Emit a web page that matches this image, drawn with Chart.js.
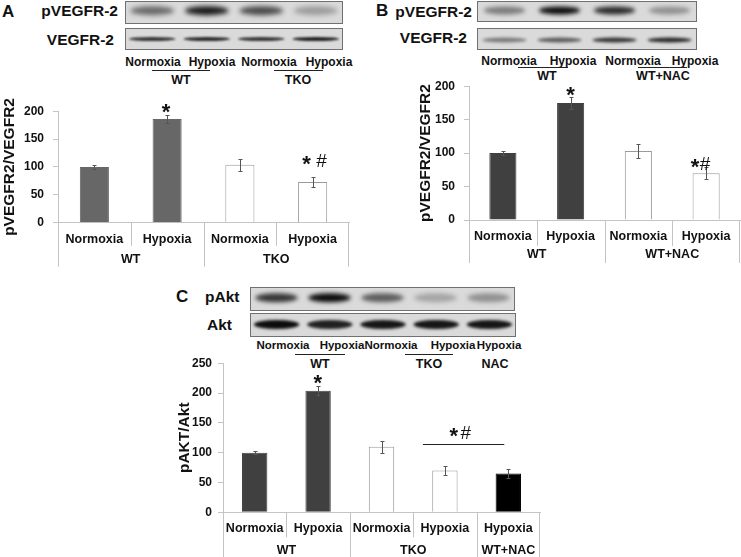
<!DOCTYPE html>
<html>
<head>
<meta charset="utf-8">
<script src="https://cdn.jsdelivr.net/npm/chart.js@4.4.1/dist/chart.umd.min.js"></script>
<style>
  html, body { margin: 0; padding: 0; background: #fff; }
  body { width: 741px; height: 557px; position: relative; overflow: hidden;
         font-family: "Liberation Sans", Arial, sans-serif; color: #111; }
  .abs { position: absolute; }
  .lbl { position: absolute; white-space: nowrap; line-height: 1; font-weight: bold; }
  .rule { position: absolute; height: 0; border-top: 1px solid #222; }
</style>
</head>
<body>
<script>
'use strict';

// ---- data ----
const conditionsAB = ['Normoxia', 'Hypoxia', 'Normoxia', 'Hypoxia'];
const conditionsC = ['Normoxia', 'Hypoxia', 'Normoxia', 'Hypoxia', 'Hypoxia'];

const groupsA = ['WT', 'TKO'];
const spansA = [2, 2];
const valuesA = [100, 186, 104, 73];
const errorsA = [3, 8, 11, 9];

const groupsB = ['WT', 'WT+NAC'];
const spansB = [2, 2];
const valuesB = [100, 175, 103, 70];
const errorsB = [3, 9, 10, 9];

const groupsC = ['WT', 'TKO', 'WT+NAC'];
const spansC = [2, 2, 1];
const valuesC = [100, 204, 110, 70, 65];
const errorsC = [3, 8, 10, 8, 7];

const ticksAB = [0, 50, 100, 150, 200];
const ticksC = [0, 50, 100, 150, 200, 250];

// blot band strength per lane (0 none .. 1 black)
const blotApVEGFR = [0.55, 0.95, 0.7, 0.3];
const blotAVEGFR = [0.8, 0.85, 0.8, 0.9];
const blotBpVEGFR = [0.45, 1.0, 0.85, 0.35];
const blotBVEGFR = [0.45, 0.6, 0.8, 0.85];
const blotCpAkt = [0.8, 1.0, 0.6, 0.25, 0.35];
const blotCAkt = [1.0, 0.9, 0.95, 0.95, 0.95];

// ---- styles ----
const AXIS_GREY = '#c4c4c4';
const FONT = '"Liberation Sans", Arial, sans-serif';
const fillA = ['#676767', '#676767', '#ffffff', '#ffffff'];
const edgeA = ['#676767', '#676767', '#9a9a9a', '#9a9a9a'];
const fillB = ['#404040', '#404040', '#ffffff', '#ffffff'];
const edgeB = ['#404040', '#404040', '#9a9a9a', '#9a9a9a'];
const fillC = ['#404040', '#404040', '#ffffff', '#ffffff', '#000000'];
const edgeC = ['#404040', '#404040', '#9a9a9a', '#9a9a9a', '#000000'];

Chart.defaults.font.family = FONT;

// grouped category axis (Excel style) under the normal tick labels
const groupAxis = {
  id: 'groupAxis',
  afterDraw(chart, args, o) {
    const { ctx, scales: { x } } = chart;
    const y0 = x.top;
    const n = chart.data.labels.length;
    const half = (x.getPixelForValue(1) - x.getPixelForValue(0)) / 2;
    const edge = i => Math.round(x.getPixelForValue(i) - half) + 0.5;
    const bounds = [0];
    o.spans.forEach(s => bounds.push(bounds[bounds.length - 1] + s));
    ctx.save();
    ctx.strokeStyle = AXIS_GREY;
    ctx.lineWidth = 1;
    for (let i = 0; i <= n; i++) {
      const len = bounds.includes(i) ? o.groupDrop : o.catDrop;
      const px = i === n ? Math.round(x.getPixelForValue(n - 1) + half) - 0.5 : edge(i);
      ctx.beginPath();
      ctx.moveTo(px, y0);
      ctx.lineTo(px, y0 + len);
      ctx.stroke();
    }
    ctx.fillStyle = '#111';
    ctx.font = 'bold 12.5px ' + FONT;
    ctx.textAlign = 'center';
    ctx.textBaseline = 'middle';
    o.names.forEach((name, g) => {
      const a = x.getPixelForValue(bounds[g]) - half;
      const b = x.getPixelForValue(bounds[g + 1] - 1) + half;
      ctx.fillText(name, (a + b) / 2, y0 + o.labelDrop);
    });
    ctx.restore();
  }
};

const errorBars = {
  id: 'errorBars',
  afterDatasetsDraw(chart) {
    const { ctx, scales: { y } } = chart;
    const ds = chart.data.datasets[0];
    ctx.save();
    ctx.strokeStyle = '#555';
    ctx.lineWidth = 1;
    chart.getDatasetMeta(0).data.forEach((bar, i) => {
      const v = ds.data[i], e = ds.errors[i];
      const top = Math.round(y.getPixelForValue(v + e)) + 0.5;
      const bot = Math.round(y.getPixelForValue(v - e)) + 0.5;
      const cx = Math.round(bar.x) + 0.5;
      ctx.beginPath();
      ctx.moveTo(cx, top); ctx.lineTo(cx, bot);
      ctx.moveTo(cx - 2, top); ctx.lineTo(cx + 2, top);
      ctx.moveTo(cx - 2, bot); ctx.lineTo(cx + 2, bot);
      ctx.stroke();
    });
    ctx.restore();
  }
};

// significance symbols, centred on their ink
const marks = {
  id: 'marks',
  afterDatasetsDraw(chart, args, o) {
    const { ctx, scales: { x, y } } = chart;
    ctx.save();
    ctx.fillStyle = '#111';
    ctx.strokeStyle = '#222';
    ctx.lineWidth = 1;
    ctx.textAlign = 'left';
    ctx.textBaseline = 'alphabetic';
    (o.items || []).forEach(m => {
      ctx.font = m.font;
      const cx = x.getPixelForValue(m.at) + m.dx;
      const cy = y.getPixelForValue(m.value);
      const t = ctx.measureText(m.text);
      const x0 = cx - (t.actualBoundingBoxRight - t.actualBoundingBoxLeft) / 2;
      const y0 = cy + (t.actualBoundingBoxAscent - t.actualBoundingBoxDescent) / 2;
      ctx.fillText(m.text, x0, y0);
    });
    (o.lines || []).forEach(l => {
      const py = Math.round(y.getPixelForValue(l.value)) + 0.5;
      ctx.beginPath();
      ctx.moveTo(x.getPixelForValue(l.from) + l.fromDx, py);
      ctx.lineTo(x.getPixelForValue(l.to) + l.toDx, py);
      ctx.stroke();
    });
    ctx.restore();
  }
};

function makePanel(box, plot, cfg) {
  const canvas = document.createElement('canvas');
  canvas.className = 'abs';
  canvas.width = box.width;
  canvas.height = box.height;
  canvas.style.left = box.left + 'px';
  canvas.style.top = box.top + 'px';
  document.body.appendChild(canvas);

  const yWidth = plot.left - box.left;
  const xHeight = box.top + box.height - plot.bottom;

  return new Chart(canvas, {
    type: 'bar',
    data: {
      labels: cfg.labels,
      datasets: [{
        data: cfg.values,
        errors: cfg.errors,
        backgroundColor: cfg.fill,
        borderColor: cfg.edge,
        borderWidth: 1,
        categoryPercentage: 1,
        barPercentage: 0.4
      }]
    },
    options: {
      responsive: false,
      animation: false,
      events: [],
      layout: {
        padding: {
          top: plot.top - box.top,
          right: box.left + box.width - plot.right,
          left: 0,
          bottom: 0
        }
      },
      plugins: {
        legend: { display: false },
        tooltip: { enabled: false },
        groupAxis: { names: cfg.groups, spans: cfg.spans, catDrop: cfg.catDrop, groupDrop: cfg.groupDrop, labelDrop: cfg.labelDrop },
        marks: { items: cfg.marks, lines: cfg.lines }
      },
      scales: {
        x: {
          grid: { display: false, drawTicks: false },
          border: { color: AXIS_GREY },
          ticks: { color: '#111', font: { size: 12.5, weight: 'bold' }, padding: 9, maxRotation: 0, autoSkip: false },
          afterFit: s => { s.height = xHeight; }
        },
        y: {
          min: 0,
          max: cfg.ticks[cfg.ticks.length - 1],
          afterBuildTicks: s => { s.ticks = cfg.ticks.map(v => ({ value: v })); },
          grid: { drawOnChartArea: false, color: AXIS_GREY, tickLength: 5 },
          border: { color: AXIS_GREY },
          ticks: { color: '#111', font: { size: 12, weight: 'bold' }, padding: cfg.tickPad },
          title: { display: true, text: cfg.title, color: '#111', font: { size: 15.5, weight: 'bold' }, padding: 0 },
          afterFit: s => { s.width = yWidth; }
        }
      }
    },
    plugins: [groupAxis, errorBars, marks]
  });
}

// ---- blots ----
function strip(x, y, w, h, lanes, band) {
  const c = document.createElement('canvas');
  c.className = 'abs';
  c.width = w;
  c.height = h;
  c.style.left = x + 'px';
  c.style.top = y + 'px';
  document.body.appendChild(c);
  const ctx = c.getContext('2d');
  ctx.fillStyle = '#dadada';
  ctx.fillRect(0, 0, w, h);
  const lw = w / lanes.length;
  ctx.filter = 'blur(' + band.blur + 'px)';
  lanes.forEach((a, i) => {
    const cx = (i + 0.5) * lw;
    ctx.fillStyle = 'rgba(12,12,12,' + a + ')';
    ctx.beginPath();
    ctx.ellipse(cx, h * band.y, lw * band.w / 2, band.t / 2, 0, 0, Math.PI * 2);
    ctx.fill();
  });
  ctx.filter = 'none';
  ctx.strokeStyle = '#707070';
  ctx.lineWidth = 1;
  ctx.strokeRect(0.5, 0.5, w - 1, h - 1);
}

function label(text, x, y, size, align) {
  const el = document.createElement('div');
  el.className = 'lbl';
  el.textContent = text;
  el.style.left = x + 'px';
  el.style.top = y + 'px';
  el.style.fontSize = size + 'px';
  const tx = align === 'right' ? '-100%' : align === 'left' ? '0' : '-50%';
  el.style.transform = 'translate(' + tx + ', -50%)';
  document.body.appendChild(el);
}

function rule(x1, x2, y) {
  const el = document.createElement('div');
  el.className = 'rule';
  el.style.left = x1 + 'px';
  el.style.top = y + 'px';
  el.style.width = (x2 - x1) + 'px';
  document.body.appendChild(el);
}

// panel A blots
label('A', 2, 11, 17, 'left');
label('pVEGFR-2', 118, 11, 15.5, 'right');
label('VEGFR-2', 114, 40, 15.5, 'right');
strip(125, 1, 218, 23, blotApVEGFR, { y: 0.42, w: 0.8, t: 9, blur: 2.5 });
strip(125, 28, 218, 22, blotAVEGFR, { y: 0.5, w: 0.85, t: 4, blur: 1.2 });
[['Normoxia', 153], ['Hypoxia', 212], ['Normoxia', 269], ['Hypoxia', 329]].forEach(([t, x]) => label(t, x, 61.5, 12));
rule(152, 210, 70); rule(274, 323, 70);
label('WT', 181, 80, 12.5); label('TKO', 298, 80, 12.5);

// panel B blots
label('B', 376, 10, 17, 'left');
label('pVEGFR-2', 472, 12, 15.5, 'right');
label('VEGFR-2', 467, 37.5, 15.5, 'right');
strip(477, 1, 220, 21, blotBpVEGFR, { y: 0.45, w: 0.75, t: 8, blur: 2.2 });
strip(477, 28, 220, 22, blotBVEGFR, { y: 0.55, w: 0.8, t: 5, blur: 1.5 });
[['Normoxia', 509], ['Hypoxia', 573], ['Normoxia', 633], ['Hypoxia', 695]].forEach(([t, x]) => label(t, x, 61, 12));
rule(518, 568, 67); rule(638, 687, 67);
label('WT', 547, 76, 12.5); label('WT+NAC', 663, 76, 12.5);

// panel C blots
label('C', 176, 295.5, 17, 'left');
label('pAkt', 205, 296.5, 15.5, 'left');
label('Akt', 207, 324.5, 15.5, 'left');
strip(250, 287, 265, 24, blotCpAkt, { y: 0.45, w: 0.8, t: 9, blur: 2.2 });
strip(250, 313, 266, 24, blotCAkt, { y: 0.48, w: 0.85, t: 9, blur: 1.8 });
[['Normoxia', 283], ['Hypoxia', 342], ['Normoxia', 391], ['Hypoxia', 453], ['Hypoxia', 499]].forEach(([t, x]) => label(t, x, 346, 11.5));
rule(295, 345, 354); rule(405, 453, 354);
label('WT', 320, 363.5, 12.5); label('TKO', 429, 363.5, 12.5); label('NAC', 495, 363.5, 12.5);

// ---- charts ----
const STAR = 'bold 22px ' + FONT;
const HASH = '19px ' + FONT;

makePanel({ left: 0, top: 95, width: 360, height: 175 }, { left: 58, top: 105.7, right: 349, bottom: 222.7 }, {
  labels: conditionsAB, values: valuesA, errors: errorsA, fill: fillA, edge: edgeA,
  groups: groupsA, spans: spansA, ticks: ticksAB, tickPad: 9, title: 'pVEGFR2/VEGFR2',
  catDrop: 23, groupDrop: 44, labelDrop: 37,
  marks: [
    { at: 1, dx: -1, value: 204, text: '*', font: STAR },
    { at: 3, dx: -6, value: 112, text: '*', font: STAR },
    { at: 3, dx: 9, value: 112, text: '#', font: HASH }
  ]
});

makePanel({ left: 416, top: 70, width: 325, height: 195 }, { left: 469, top: 81.7, right: 740, bottom: 220 }, {
  labels: conditionsAB, values: valuesB, errors: errorsB, fill: fillB, edge: edgeB,
  groups: groupsB, spans: spansB, ticks: ticksAB, tickPad: 9, title: 'pVEGFR2/VEGFR2',
  catDrop: 26, groupDrop: 43, labelDrop: 35,
  marks: [
    { at: 1, dx: 0, value: 192, text: '*', font: STAR },
    { at: 3, dx: -11, value: 85, text: '*', font: STAR },
    { at: 3, dx: -1, value: 84, text: '#', font: HASH }
  ]
});

makePanel({ left: 175, top: 350, width: 370, height: 207 }, { left: 223, top: 359.4, right: 540, bottom: 512.3 }, {
  labels: conditionsC, values: valuesC, errors: errorsC, fill: fillC, edge: edgeC,
  groups: groupsC, spans: spansC, ticks: ticksC, tickPad: 6, title: 'pAKT/Akt',
  catDrop: 25, groupDrop: 45, labelDrop: 38,
  marks: [
    { at: 1, dx: 0, value: 222, text: '*', font: STAR },
    { at: 3, dx: 9, value: 134, text: '*', font: STAR },
    { at: 3, dx: 21, value: 134, text: '#', font: HASH }
  ],
  lines: [{ from: 3, fromDx: -22, to: 4, toDx: -4, value: 115 }]
});
</script>
</body>
</html>
